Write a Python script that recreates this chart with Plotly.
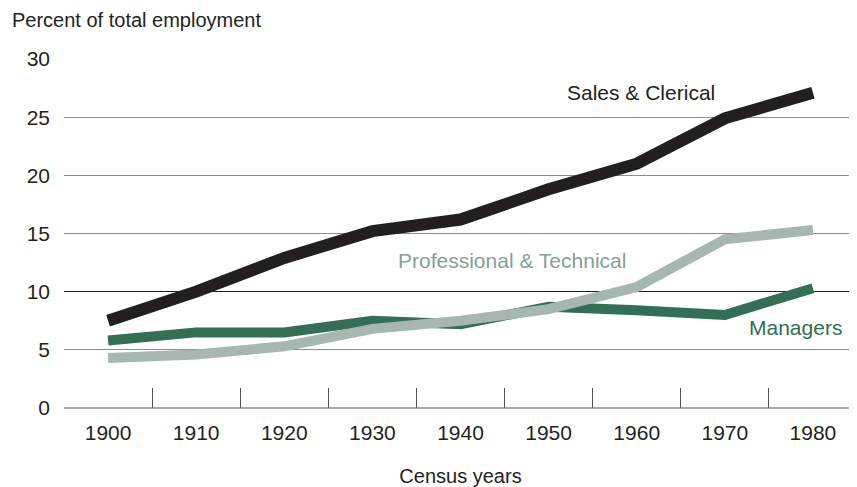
import plotly.graph_objects as go

years = [1900, 1910, 1920, 1930, 1940, 1950, 1960, 1970, 1980]
sales_clerical = [7.5, 10.0, 12.9, 15.2, 16.2, 18.8, 21.0, 24.9, 27.1]
professional = [4.3, 4.6, 5.3, 6.8, 7.5, 8.5, 10.4, 14.5, 15.3]
managers = [5.8, 6.5, 6.5, 7.5, 7.2, 8.7, 8.4, 8.0, 10.3]

y_ticks = [0, 5, 10, 15, 20, 25, 30]
sep_ticks = [1905, 1915, 1925, 1935, 1945, 1955, 1965, 1975]

BLACK = "#231f20"
GREEN = "#336e56"
LIGHT = "#a6b7b0"
LABEL_LIGHT = "#86a096"
FONT = "Liberation Sans, Arial, sans-serif"

# page body has an 8px margin; figure sized to fit the window exactly
W, H = 849, 479

fig = go.Figure()
fig.add_trace(go.Scatter(x=years, y=managers, mode="lines",
                         line=dict(color=GREEN, width=10), name="Managers"))
fig.add_trace(go.Scatter(x=years, y=professional, mode="lines",
                         line=dict(color=LIGHT, width=10), name="Professional & Technical"))
fig.add_trace(go.Scatter(x=years, y=sales_clerical, mode="lines",
                         line=dict(color=BLACK, width=12), name="Sales & Clerical"))
# invisible trace to activate overlay axes
fig.add_trace(go.Scatter(x=[years[0]], y=[0], xaxis="x2", yaxis="y2",
                         mode="markers", marker=dict(opacity=0), hoverinfo="skip",
                         showlegend=False))

fig.update_layout(
    width=W, height=H,
    margin=dict(l=56, r=0, t=51, b=79),
    paper_bgcolor="white", plot_bgcolor="white",
    showlegend=False,
    font=dict(family=FONT, size=20, color=BLACK),
    title=dict(text="Percent of total employment", x=4/W, xanchor="left",
               xref="container", y=1-12/H, yanchor="middle", yref="container",
               font=dict(size=20, color=BLACK)),
    xaxis=dict(range=[1895, 1985], tickvals=years, ticktext=[str(y) for y in years],
               showgrid=False, zeroline=False, showline=False, ticks="",
               ticklabelstandoff=10,
               title=dict(text="Census years", font=dict(size=20), standoff=26),
               tickfont=dict(size=21)),
    yaxis=dict(range=[0, 30], tickvals=y_ticks, showgrid=True, gridcolor="#8c8c8c",
               gridwidth=1, zeroline=True, zerolinecolor="#aaaaaa", zerolinewidth=2,
               showline=False, ticks="", ticklabelstandoff=13, tickfont=dict(size=21)),
    xaxis2=dict(range=[1895, 1985], overlaying="x", anchor="y", tickvals=sep_ticks,
                ticks="inside", ticklen=20, tickcolor="#555555", tickwidth=1,
                showticklabels=False, showgrid=False, zeroline=False, showline=False),
    yaxis2=dict(range=[0, 30], overlaying="y", tickvals=[10], showgrid=True,
                gridcolor=BLACK, gridwidth=1, showticklabels=False, zeroline=False,
                showline=False),
)

fig.add_annotation(x=1960.5, y=27.1, text="Sales & Clerical", showarrow=False,
                   font=dict(size=21, color=BLACK))
fig.add_annotation(x=1945.9, y=12.7, text="Professional & Technical", showarrow=False,
                   font=dict(size=21, color=LABEL_LIGHT))
fig.add_annotation(x=1978.0, y=6.9, text="Managers", showarrow=False,
                   font=dict(size=21, color=GREEN))

fig.write_html("out.html")
